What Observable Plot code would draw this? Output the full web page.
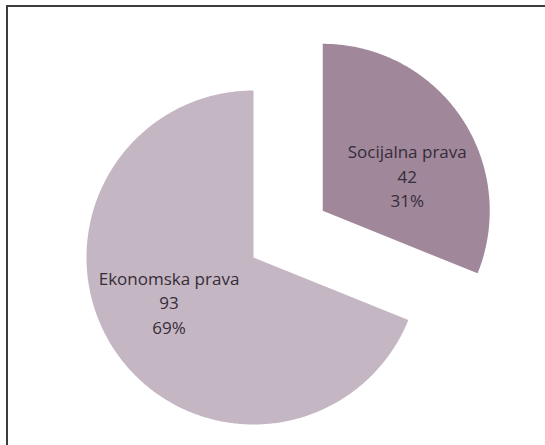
<!DOCTYPE html>
<html>
<head>
<meta charset="utf-8">
<script src="https://cdn.jsdelivr.net/npm/d3@7"></script>
<script src="https://cdn.jsdelivr.net/npm/@observablehq/plot@0.6"></script>
<style>
  html, body { margin: 0; padding: 0; background: #fff; overflow: hidden; }
  #wrap { position: relative; width: 545px; height: 445px; }
  #border { position: absolute; left: 6px; top: 5px; right: -10px; bottom: -10px;
            border-top: 2px solid #3c3c3c; border-left: 2px solid #3c3c3c; pointer-events: none; }
</style>
</head>
<body>
<div id="wrap"><div id="chart"></div><div id="border"></div></div>
<script>
// Data
const categories = ["Socijalna prava", "Ekonomska prava"];
const counts = [42, 93];
const percents = ["31%", "69%"];
const sliceColors = ["#a08799", "#c5b6c3"];

const pie = d3.pie().sort(null).startAngle(0).endAngle(2 * Math.PI)(counts);

// Build slice polygons (unit radius, y up), Socijalna slice exploded
const explode = [0.5, 0];
const points = [];
const labels = [];
pie.forEach((p, i) => {
  const mid = (p.startAngle + p.endAngle) / 2;
  const cx = explode[i] * Math.sin(mid);
  const cy = explode[i] * Math.cos(mid);
  points.push({name: categories[i], x: cx, y: cy});
  const n = Math.max(2, Math.ceil((p.endAngle - p.startAngle) / 0.01));
  for (let k = 0; k <= n; k++) {
    const a = p.startAngle + (p.endAngle - p.startAngle) * k / n;
    points.push({name: categories[i], x: cx + Math.sin(a), y: cy + Math.cos(a)});
  }
  const la = mid + 0.15;
  const lr = 0.56;
  labels.push({
    name: categories[i],
    x: cx + lr * Math.sin(la),
    y: cy + lr * Math.cos(la),
    text: `${categories[i]}\n${counts[i]}\n${percents[i]}`
  });
});

const R = 167;
const chart = Plot.plot({
  width: 545,
  height: 445,
  margin: 0,
  x: {domain: [-253 / R, 292 / R], axis: null},
  y: {domain: [-188 / R, 257 / R], axis: null},
  color: {domain: categories, range: sliceColors},
  style: {fontFamily: "'Open Sans', Lato, sans-serif", background: "transparent"},
  marks: [
    Plot.line(points, {x: "x", y: "y", z: "name", fill: "name", stroke: null, curve: "linear-closed"}),
    Plot.text(labels, {x: "x", y: "y", dy: 4, text: "text", fontSize: 17, lineHeight: 1.44, fill: "#352d3a"})
  ]
});
document.getElementById("chart").appendChild(chart);
</script>
</body>
</html>
